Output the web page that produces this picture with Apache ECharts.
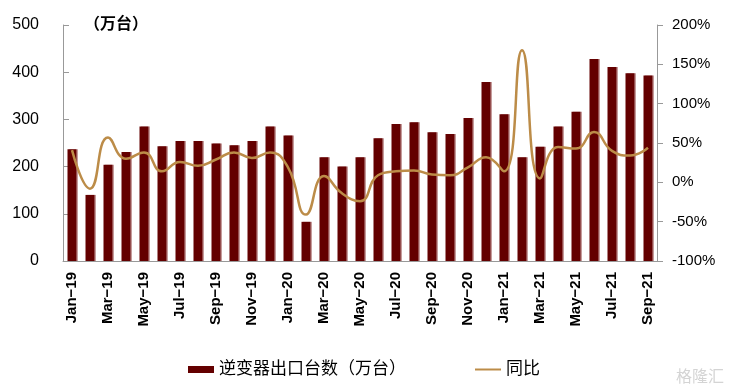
<!DOCTYPE html>
<html><head><meta charset="utf-8">
<script src="https://cdn.jsdelivr.net/npm/echarts@6/dist/echarts.min.js"></script>
<style>html,body{margin:0;padding:0;background:#fff}#c{width:730px;height:388px}</style>
</head><body><div id="c"></div>
<script>
const categories = ['Jan-19','Feb-19','Mar-19','Apr-19','May-19','Jun-19','Jul-19','Aug-19','Sep-19','Oct-19','Nov-19','Dec-19',
 'Jan-20','Feb-20','Mar-20','Apr-20','May-20','Jun-20','Jul-20','Aug-20','Sep-20','Oct-20','Nov-20','Dec-20',
 'Jan-21','Feb-21','Mar-21','Apr-21','May-21','Jun-21','Jul-21','Aug-21','Sep-21'];
const exports = [237,140,204,231,285,243,254,254,249,245,254,285,
 266,83,220,200,220,260,290,294,273,269,303,379,
 311,220,242,285,316,428,411,398,393];
const yoy = [41,-8,57,30,38,14,26,21,29,38,31,38,
 19,-41,8,-14,-24,9,14,15,10,9,19,32,
 14,168,5,45,43,64,40,34,44];
const leftTicks = [0,100,200,300,400,500];
const rightTicks = [-100,-50,0,50,100,150,200];

const chart = echarts.init(document.getElementById('c'), null, {renderer:'canvas'});
const font = 'Liberation Sans, Arial, sans-serif';
const cjk = 'Liberation Sans, Noto Sans CJK SC, sans-serif';
chart.setOption({
  animation:false,
  grid:{left:63,right:73,top:25,bottom:127},
  legend:{
    top:356,left:183,itemGap:69,itemWidth:26,itemHeight:7,
    textStyle:{fontFamily:cjk,fontSize:17,color:'#000'},
    data:[{name:'逆变器出口台数（万台）',icon:'rect'},{name:'同比',icon:'path://M0,0H26V2H0Z',itemStyle:{color:'#BC8C48'}}]
  },
  graphic:[
    {type:'text',left:84,top:15,style:{text:'（万台）',font:'bold 16px Noto Sans CJK SC',fill:'#000'}},
    {type:'text',right:6,bottom:4,style:{text:'格隆汇',font:'16px Noto Sans CJK SC',fill:'#d4d4d4'}}
  ],
  xAxis:{
    type:'category',data:categories,
    axisLine:{lineStyle:{color:'#999'}},
    axisTick:{inside:true,interval:1,length:5,lineStyle:{color:'#999'}},
    axisLabel:{interval:1,rotate:90,fontFamily:font,fontSize:15,fontWeight:'bold',color:'#000',margin:11,
      formatter:v=>v.replace('-','−')}
  },
  yAxis:[
    {type:'value',min:leftTicks[0],max:leftTicks[leftTicks.length-1],interval:100,
     axisLine:{show:true,lineStyle:{color:'#999'}},
     axisTick:{show:true,inside:true,length:6,lineStyle:{color:'#999'}},
     splitLine:{show:false},
     axisLabel:{fontFamily:font,fontSize:16,color:'#000',margin:24}},
    {type:'value',min:rightTicks[0],max:rightTicks[rightTicks.length-1],interval:50,position:'right',
     axisLine:{show:true,lineStyle:{color:'#999'}},
     axisTick:{show:true,length:6,lineStyle:{color:'#999'}},
     splitLine:{show:false},
     axisLabel:{fontFamily:font,fontSize:15,color:'#000',margin:15,formatter:'{value}%'}}
  ],
  series:[
    {name:'逆变器出口台数（万台）',type:'bar',data:exports,barWidth:9,
     itemStyle:{color:'#640000',shadowColor:'rgba(160,90,90,0.6)',shadowOffsetX:1.5}},
    {name:'同比',type:'line',yAxisIndex:1,data:yoy,smooth:0.5,symbol:'none',
     lineStyle:{color:'#BC8C48',width:2.5},itemStyle:{color:'#BC8C48'}}
  ]
});
</script></body></html>
